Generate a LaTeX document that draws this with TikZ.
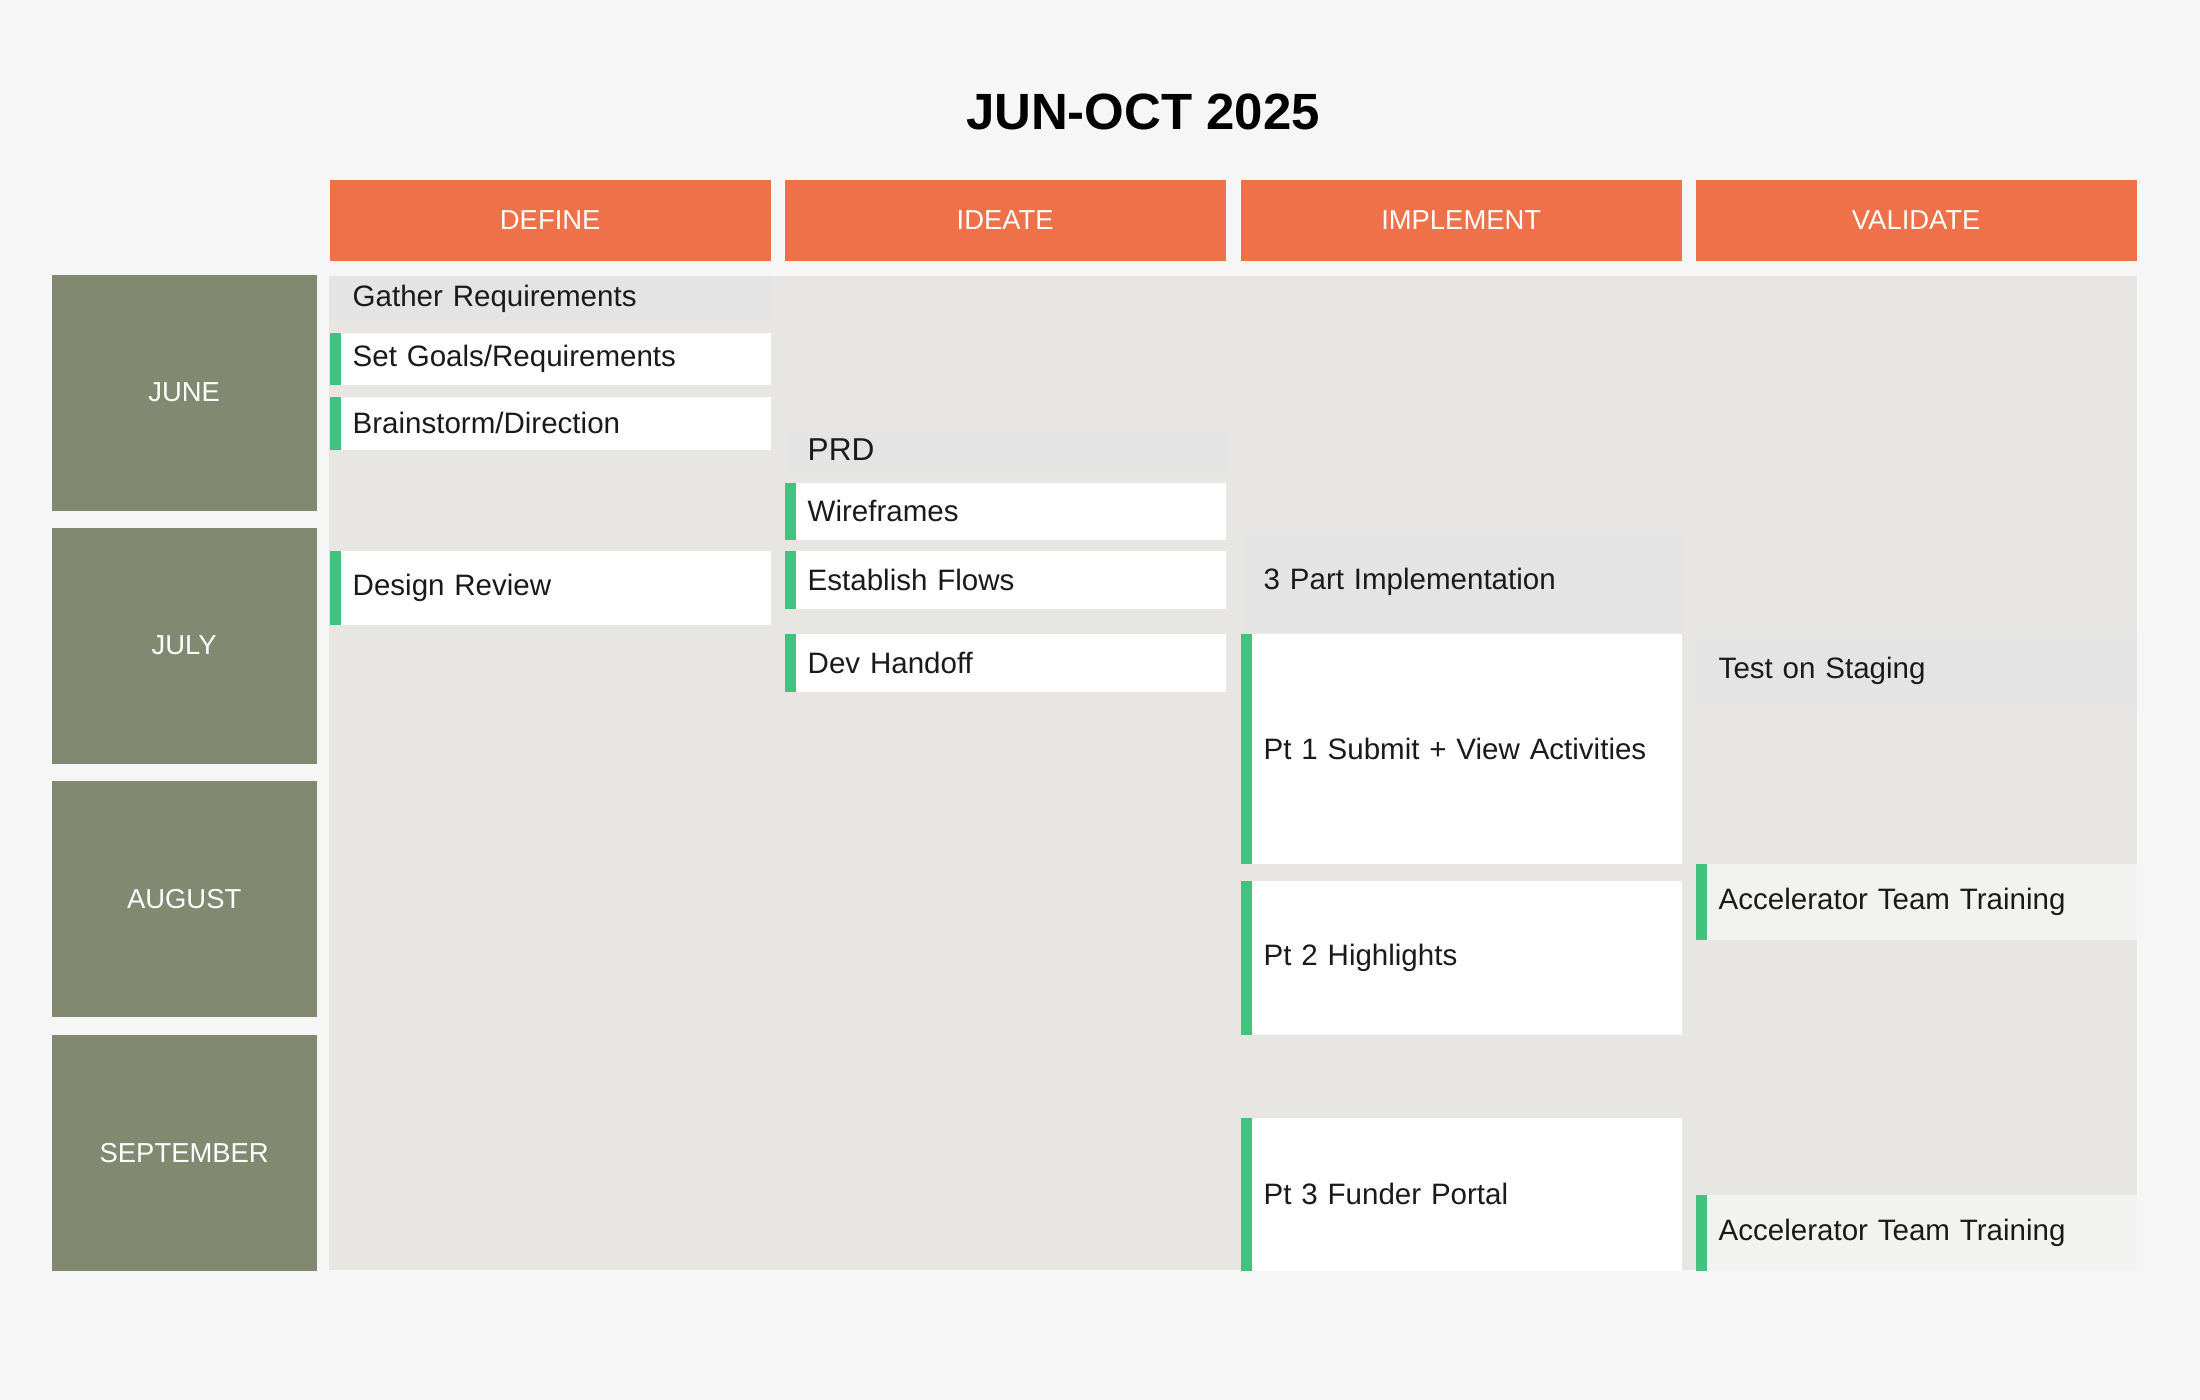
\documentclass[tikz,border=0pt]{standalone}
\usepackage{fontspec}
\setmainfont{Liberation Sans}

\definecolor{pagebg}{HTML}{F6F6F6}
\definecolor{headorange}{HTML}{EF714A}
\definecolor{monthgreen}{HTML}{818A71}
\definecolor{gridgrey}{HTML}{E7E6E2}
\definecolor{itemgrey}{HTML}{E4E4E4}
\definecolor{trainbg}{HTML}{F2F2F1}
\definecolor{bargreen}{HTML}{43C17F}
\definecolor{inkblack}{HTML}{1A1A1A}

\tikzset{
  hdr/.style={anchor=north west, fill=headorange, minimum width=44.1mm, minimum height=8.1mm,
    inner sep=0pt, text=white, font=\fontsize{7.8}{9}\selectfont},
  month/.style={anchor=north west, fill=monthgreen, minimum width=26.5mm, minimum height=23.6mm,
    inner sep=0pt, text=white, font=\fontsize{7.8}{9}\selectfont},
  cell/.style={anchor=north west, rectangle, inner xsep=2.3mm, inner ysep=0pt, text width=39.5mm,
    align=left, text=inkblack, font=\fontsize{8.4}{10}\selectfont},
  plain/.style={cell, fill=itemgrey},
  task/.style={cell, fill=#1, path picture={
      \fill[bargreen] (path picture bounding box.north west)
        rectangle ([xshift=1.15mm]path picture bounding box.south west);}},
  task/.default=white
}

\begin{document}
\begin{tikzpicture}[x=0.1mm,y=-0.1mm]
  % page and grid
  \fill[pagebg] (0,0) rectangle (2200,1400);
  \fill[gridgrey] (329,276) rectangle (2137,1270);

  \node[font=\bfseries\fontsize{14.5}{16}\selectfont, text=black] (title) at (1143,112) {JUN-OCT 2025};

  % phase headers
  \node[hdr] (hdefine) at (329,179) {DEFINE};
  \node[hdr] (hideate) at (784,179) {IDEATE};
  \node[hdr] (himplement) at (1240,179) {IMPLEMENT};
  \node[hdr] (hvalidate) at (1695,179) {VALIDATE};

  % months
  \node[month] (mjune) at (51,274) {JUNE};
  \node[month] (mjuly) at (51,527) {JULY};
  \node[month] (maugust) at (51,780) {AUGUST};
  \node[month] (msept) at (51,1034) {SEPTEMBER};

  % define
  \node[plain, minimum height=4.4mm] (gather) at (329,276) {Gather Requirements};
  \node[task, minimum height=5.25mm] (setgoals) at (329,332) {Set Goals/Requirements};
  \node[task, minimum height=5.3mm] (brainstorm) at (329,396) {Brainstorm/Direction};
  \node[task, minimum height=7.4mm] (review) at (329,550) {Design Review};

  % ideate
  \node[plain, minimum height=4.4mm, font=\fontsize{9}{10}\selectfont] (prd) at (784,427) {PRD};
  \node[task, minimum height=5.75mm] (wireframes) at (784,482) {Wireframes};
  \node[task, minimum height=5.8mm] (flows) at (784,550) {Establish Flows};
  \node[task, minimum height=5.8mm] (handoff) at (784,633) {Dev Handoff};

  % implement
  \node[plain, minimum height=10.1mm] (threepart) at (1240,531) {3 Part Implementation};
  \node[task, minimum height=23mm] (ptone) at (1240,633) {Pt 1 Submit + View Activities};
  \node[task, minimum height=15.4mm] (pttwo) at (1240,880) {Pt 2 Highlights};
  \node[task, minimum height=15.3mm] (ptthree) at (1240,1117) {Pt 3 Funder Portal};

  % validate
  \node[plain, minimum height=7.3mm] (staging) at (1695,634) {Test on Staging};
  \node[task=trainbg, minimum height=7.6mm] (trainone) at (1695,863) {Accelerator Team Training};
  \node[task=trainbg, minimum height=7.6mm] (traintwo) at (1695,1194) {Accelerator Team Training};
\end{tikzpicture}
\end{document}
